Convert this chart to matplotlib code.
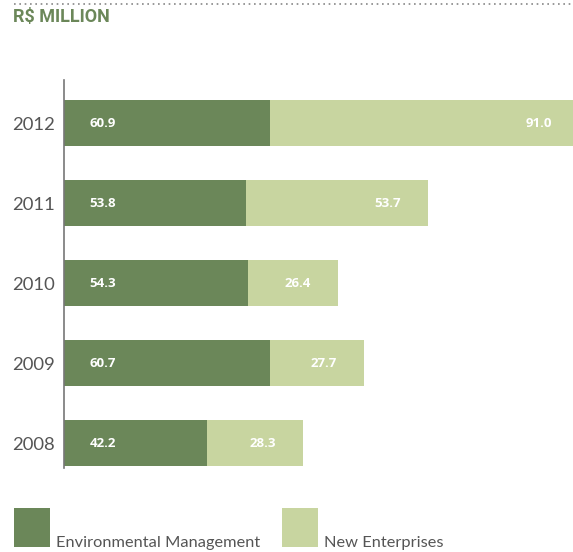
import matplotlib
matplotlib.use("Agg")
import matplotlib.pyplot as plt
from matplotlib.patches import Rectangle
from matplotlib.lines import Line2D

years = ["2008", "2009", "2010", "2011", "2012"]
environmental = [42.2, 60.7, 54.3, 53.8, 60.9]
new_enterprises = [28.3, 27.7, 26.4, 53.7, 91.0]
series_names = ["Environmental Management", "New Enterprises"]
title = "R$ MILLION"

dark = "#6b8759"
light = "#c8d5a0"
gray = "#555555"

W, H = 573, 552
fig = plt.figure(figsize=(W / 100, H / 100), dpi=100)

# plotting area: value axis line at x=64, bars run to the right edge
ax = fig.add_axes([64 / W, 1 - 468 / H, 1 - 64 / W, 388 / H])
ax.set_xlim(0, 509 / 3.39)
ax.set_ylim(-0.31, 4.54)

pos = list(range(len(years)))
bh = 0.58
ax.barh(pos, environmental, height=bh, color=dark, linewidth=0)
ax.barh(pos, new_enterprises, left=environmental, height=bh, color=light, linewidth=0)

for y, a, b in zip(pos, environmental, new_enterprises):
    ax.text(7.6, y, f"{a:.1f}", ha="left", va="center", color="white",
            fontsize=9.5, fontweight="bold", family="Open Sans")
    ax.text(a + b - 8.0, y, f"{b:.1f}", ha="right", va="center", color="white",
            fontsize=9.5, fontweight="bold", family="Open Sans", clip_on=False)

for s in ["top", "right", "bottom"]:
    ax.spines[s].set_visible(False)
ax.spines["left"].set_color("#777777")
ax.spines["left"].set_linewidth(1.2)
ax.set_xticks([])
ax.set_yticks(pos)
ax.set_yticklabels(years, fontsize=13.3, color=gray, family="Lato")
ax.tick_params(axis="y", length=0, pad=6.5)

# heading: dotted rule and unit title
fig.add_artist(Line2D([14 / W, 1], [1 - 4 / H, 1 - 4 / H], transform=fig.transFigure,
                      color="#888888", linestyle=(0, (1, 2.2)), linewidth=1.2))
fig.text(13 / W, 1 - 17 / H, title, ha="left", va="center", color=dark,
         fontsize=13, fontweight="bold", family="Roboto")

# legend
for x0, color, name in [(14, dark, series_names[0]), (282, light, series_names[1])]:
    fig.add_artist(Rectangle((x0 / W, 1 - 547 / H), 36 / W, 39 / H,
                             transform=fig.transFigure, color=color, linewidth=0))
    fig.text((x0 + 42) / W, 1 - 547 / H, name, ha="left", va="baseline",
             color=gray, fontsize=11.8, family="Lato")

fig.savefig("out.png", dpi=100)
